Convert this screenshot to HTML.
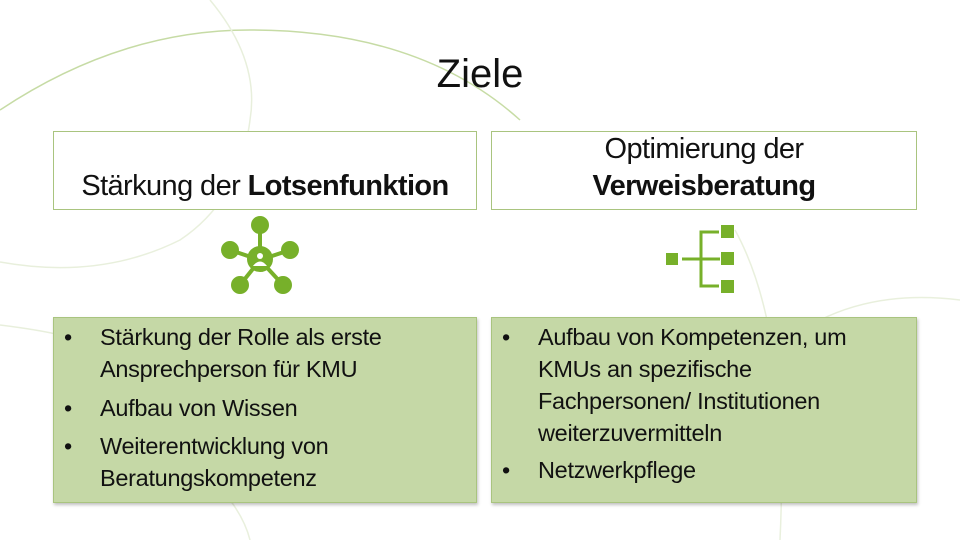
<!DOCTYPE html>
<html><head><meta charset="utf-8"><style>
body{margin:0;width:960px;height:540px;overflow:hidden;background:#fff;font-family:"Liberation Sans",sans-serif;position:relative}
.abs{position:absolute}
.hdr{position:absolute;top:131px;height:79px;border:1px solid #a9c47f;background:#fff;box-sizing:border-box;color:#111;font-size:29px;text-align:center;letter-spacing:-0.6px}
.box{position:absolute;top:317px;height:186px;background:#c5d8a6;border:1px solid #a9c47f;box-sizing:border-box;box-shadow:1px 2px 3px rgba(0,0,0,.25);font-size:23.5px;color:#111;letter-spacing:-0.3px}
.li{position:absolute;left:46px;white-space:nowrap}
.b{position:absolute;left:10px;line-height:32px}
</style></head><body>
<svg class="abs" style="left:0;top:0" width="960" height="540">
<g fill="none" stroke="#b9d38f" stroke-width="1.5" opacity="0.8">
<path d="M0 110 Q120 30 250 30 Q420 30 520 120"/>
<path d="M210 0 Q260 60 250 120 Q240 200 180 240 Q100 280 0 262" stroke="#e3ecd4"/>
<path d="M735 230 Q790 330 780 540" stroke="#e3ecd4"/>
<path d="M0 325 Q40 330 60 335" stroke="#e3ecd4"/>
<path d="M820 320 Q880 290 960 300" stroke="#e3ecd4"/>
<path d="M230 500 Q245 520 250 540" stroke="#e3ecd4"/>
</g>
</svg>
<div class="abs" style="left:0;width:960px;top:52px;text-align:center;font-size:40px;color:#111">Ziele</div>
<div class="hdr" style="left:53px;width:424px;"><div style="margin-top:38px">Stärkung der <b>Lotsenfunktion</b></div></div>
<div class="hdr" style="left:491px;width:426px;line-height:37px"><div style="margin-top:-1px">Optimierung der<br><b>Verweisberatung</b></div></div>
<svg class="abs" style="left:215px;top:215px" width="90" height="85">
<g stroke="#77b02a" stroke-width="4" fill="#77b02a">
<line x1="45" y1="10" x2="45" y2="45"/><line x1="45" y1="45" x2="15" y2="35"/><line x1="45" y1="45" x2="75" y2="35"/><line x1="45" y1="45" x2="25" y2="70"/><line x1="45" y1="45" x2="68" y2="70"/>
<circle cx="45" cy="10" r="7"/><circle cx="15" cy="35" r="7"/><circle cx="75" cy="35" r="7"/><circle cx="25" cy="70" r="7"/><circle cx="68" cy="70" r="7"/>
<circle cx="45" cy="44" r="11"/>
</g>
<circle cx="45" cy="41" r="3" fill="#fff"/><path d="M38 51 Q45 42 52 51 Z" fill="#fff"/>
</svg>
<svg class="abs" style="left:660px;top:220px" width="80" height="80">
<g fill="#77b02a"><rect x="6" y="33" width="12" height="12"/><rect x="61" y="5" width="13" height="13"/><rect x="61" y="32" width="13" height="13"/><rect x="61" y="60" width="13" height="13"/></g>
<g stroke="#77b02a" stroke-width="3" fill="none"><path d="M22 39 H60 M59 12 H41 V66 H59"/></g>
</svg>
<div class="box" style="left:53px;width:424px">
<div class="b" style="top:3px">•</div><div class="li" style="top:3px;line-height:32px">Stärkung der Rolle als erste<br>Ansprechperson für KMU</div>
<div class="b" style="top:74px">•</div><div class="li" style="top:74px;line-height:32px">Aufbau von Wissen</div>
<div class="b" style="top:112px">•</div><div class="li" style="top:112px;line-height:32px">Weiterentwicklung von<br>Beratungskompetenz</div>
</div>
<div class="box" style="left:491px;width:426px">
<div class="b" style="top:3px">•</div><div class="li" style="top:3px;line-height:32px">Aufbau von Kompetenzen, um<br>KMUs an spezifische<br>Fachpersonen/ Institutionen<br>weiterzuvermitteln</div>
<div class="b" style="top:136px">•</div><div class="li" style="top:136px;line-height:32px">Netzwerkpflege</div>
</div>
</body></html>
